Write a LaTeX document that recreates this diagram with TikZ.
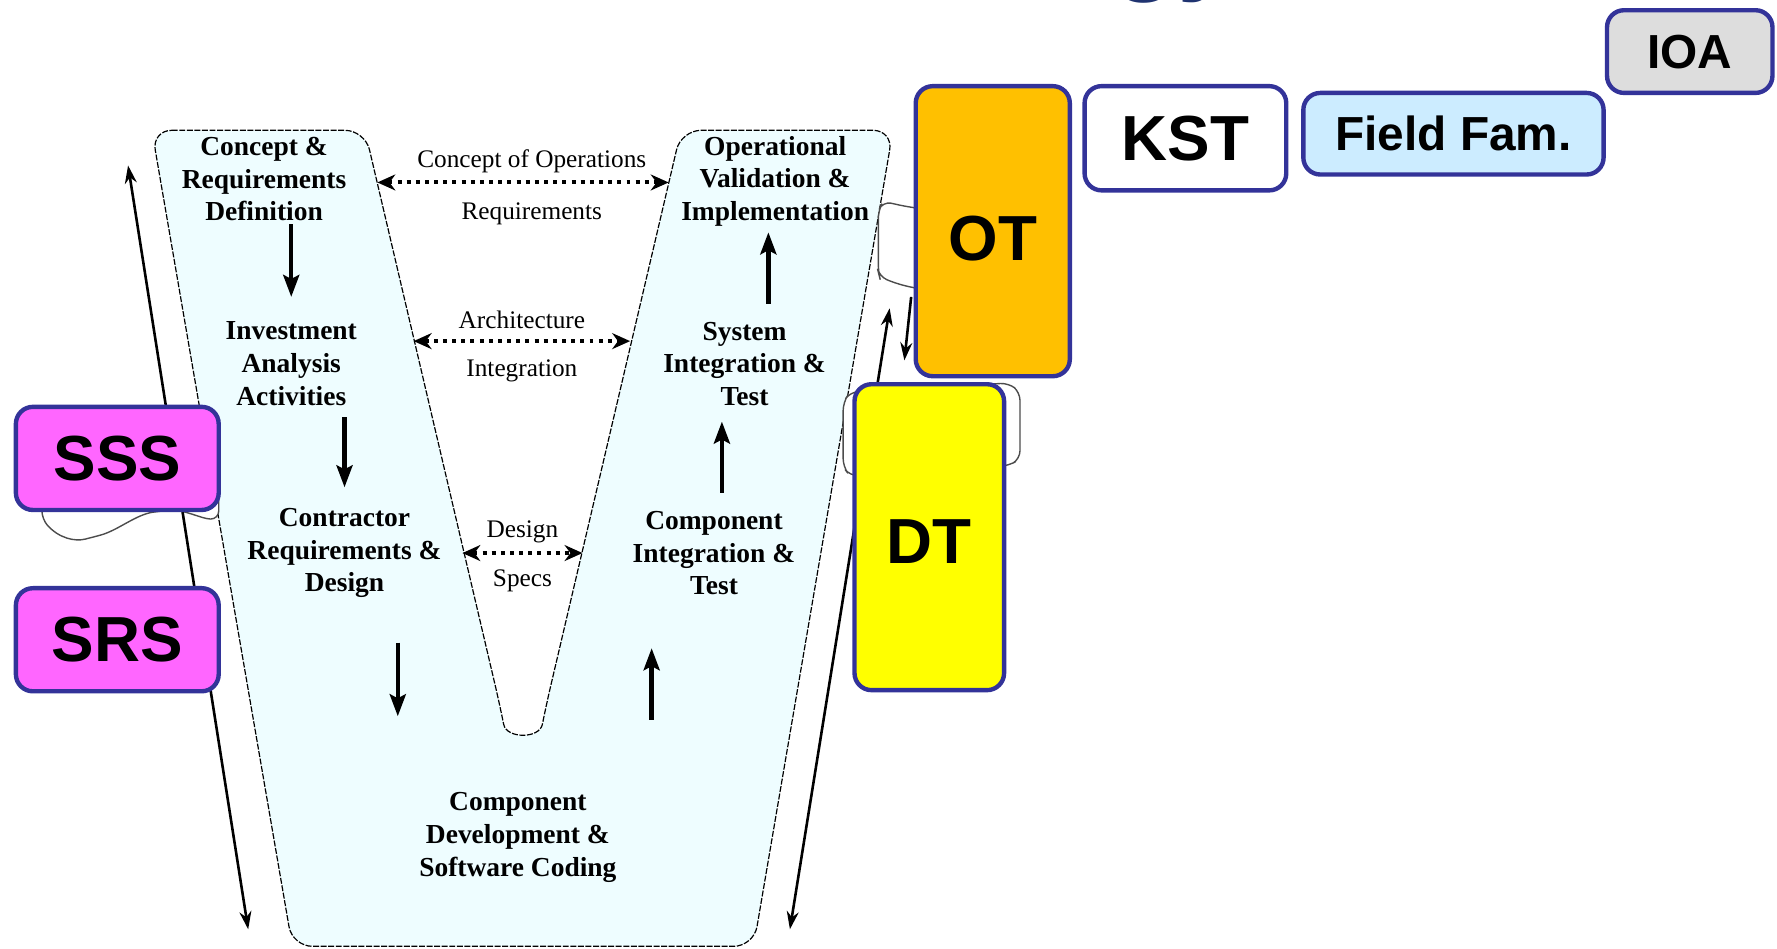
\documentclass[tikz,border=0pt]{standalone}
\usepackage{fontspec}
\setmainfont{Liberation Serif}
\setsansfont{Liberation Sans}
\usetikzlibrary{arrows.meta,calc}

\definecolor{vfill}{RGB}{238,253,255}
\definecolor{tagline}{RGB}{51,51,153}
\definecolor{sssfill}{RGB}{255,102,255}
\definecolor{otfill}{RGB}{255,192,0}
\definecolor{dtfill}{RGB}{255,255,0}
\definecolor{fieldfill}{RGB}{204,236,255}
\definecolor{ioafill}{RGB}{221,221,221}
\definecolor{titlenavy}{RGB}{31,51,112}

\begin{document}
\begin{tikzpicture}[
        x=0.02cm, y=-0.02cm,
        vshape/.style={draw, fill=vfill, line width=0.6pt, dash pattern=on 3pt off 0.8pt, rounded corners=0.35cm},
        stage/.style={align=center, inner sep=0pt, font=\fontsize{13.8}{16.4}\selectfont\bfseries},
        note/.style={inner sep=0pt, font=\fontsize{12.7}{15}\selectfont},
        flow/.style={-{Stealth[length=11pt,width=8pt,inset=2pt]}, line width=2.2pt},
        link/.style={{Stealth[length=9pt,width=8pt]}-{Stealth[length=9pt,width=8pt]}, line width=2pt, dash pattern=on 2pt off 2.6pt},
        span/.style={{Stealth[length=9pt,width=6pt]}-{Stealth[length=9pt,width=6pt]}, line width=1.3pt},
        doc/.style={draw=black!70, fill=white, line width=0.7pt, rounded corners=4pt},
        tag/.style={draw=tagline, line width=2.2pt, rounded corners=0.3cm, inner sep=0pt,
            font=\fontsize{32}{32}\selectfont\sffamily\bfseries},
        smalltag/.style={tag, font=\fontsize{24}{24}\selectfont\sffamily\bfseries}
    ]
    \useasboundingbox (0,0) rectangle (1568,837);

    % cut-off title above the picture
    \node[anchor=base west, inner sep=0pt, text=titlenavy,
        font=\fontsize{54}{54}\selectfont\sffamily\bfseries] (ttl) at (981,-17) {gy};

    % the V
    \draw[vshape] (134,115) -- (322,115) -- (441,622)
        .. controls (447,652) and (476,652) .. (482,622)
        -- (601,115) -- (788,115) -- (665,835) -- (258,835) -- cycle;

    \node[stage] (crd) at (233,158) {Concept \&\\Requirements\\Definition};
    \node[stage] (iaa) at (257,321) {Investment\\Analysis\\Activities};
    \node[stage] (crdes) at (304,488) {Contractor\\Requirements \&\\Design};
    \node[stage] (cdsc) at (457,739) {Component\\Development \&\\Software Coding};
    \node[stage] (cit) at (630,488) {Component\\Integration \&\\Test};
    \node[stage] (sit) at (657,321) {System\\Integration \&\\Test};
    \node[stage] (ovi) at (684,160) {Operational\\Validation \&\\Implementation};

    \draw[flow] ($(crd)+(24,40)$) -- ($(iaa)+(0,-59)$);
    \draw[flow] ($(iaa)+(47,47)$) -- ($(crdes)+(0,-58)$);
    \draw[flow] ($(crdes)+(47,79)$) -- ($(cdsc)+(-106,-107)$);
    \draw[flow] ($(cdsc)+(118,-104)$) -- ($(cit)+(-55,84)$);
    \draw[flow] ($(cit)+(7,-53)$) -- ($(sit)+(-20,51)$);
    \draw[flow] ($(sit)+(21,-53)$) -- ($(ovi)+(-6,45)$);

    \draw[link] ($(crd)+(100,3)$) -- ($(ovi)+(-94,1)$)
        node[note, pos=0.53, yshift=10.5pt] {Concept of Operations}
        node[note, pos=0.53, yshift=-15.7pt] {Requirements};
    \draw[link] ($(iaa)+(108,-20)$) -- ($(sit)+(-101,-20)$)
        node[note, midway, yshift=10.5pt] {Architecture}
        node[note, midway, yshift=-14.7pt] {Integration};
    \draw[link] ($(crdes)+(104,0)$) -- ($(cit)+(-116,0)$)
        node[note, midway, yshift=10.5pt] {Design}
        node[note, midway, yshift=-13.7pt] {Specs};

    % document shapes behind the tags
    \draw[doc] (37,385) -- (37,458) .. controls (52,475) and (66,478) .. (82,474)
        .. controls (104,468) and (120,454) .. (142,451)
        .. controls (162,449) and (178,458) .. (193,458) -- (193,385) -- cycle;
    \draw[doc] (775,240) -- (775,186) -- (779,178) .. controls (790,180) and (800,183) .. (830,186)
        -- (830,256) .. controls (805,255) and (790,250) .. (776,244) -- cycle;
    \draw[doc] (744,412) -- (744,355) -- (750,346) -- (890,338) -- (900,346)
        -- (900,405) -- (890,411) -- (750,420) -- cycle;

    % side arrows
    \coordinate (ltop) at (113,146);
    \coordinate (lbot) at (219,820);
    \coordinate (rtop) at (785,272);
    \coordinate (rbot) at (697,820);
    \coordinate (dtop) at (804,262);
    \coordinate (dbot) at (798,318);
    \draw[span] (lbot) -- (ltop);
    \draw[span] (rbot) -- (rtop);
    \draw[-{Stealth[length=9pt,width=6pt]}, line width=1.3pt] (dtop) -- (dbot);

    % tags
    \node[tag, fill=sssfill, minimum width=3.58cm, minimum height=1.82cm] (sss) at (103.5,404.5) {SSS};
    \node[tag, fill=sssfill, minimum width=3.58cm, minimum height=1.82cm] (srs) at (103.5,564.5) {SRS};
    \node[tag, fill=otfill, minimum width=2.72cm, minimum height=5.12cm,
        text height=29.5pt, text depth=0pt] (ot) at (876,204) {OT};
    \node[tag, fill=dtfill, minimum width=2.64cm, minimum height=5.4cm,
        text height=26pt, text depth=0pt] (dt) at (820,474) {DT};
    \node[tag, fill=white, minimum width=3.56cm, minimum height=1.84cm] (kst) at (1046,122) {KST};
    \node[smalltag, fill=fieldfill, minimum width=5.3cm, minimum height=1.44cm] (ff) at (1282.5,118) {Field Fam.};
    \node[smalltag, fill=ioafill, minimum width=2.92cm, minimum height=1.46cm] (ioa) at (1491,45.5) {IOA};
\end{tikzpicture}
\end{document}
